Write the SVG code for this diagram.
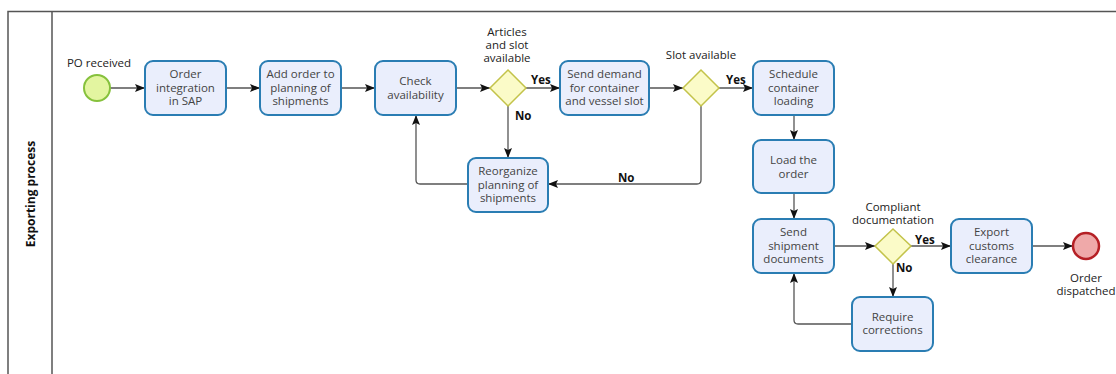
<svg xmlns="http://www.w3.org/2000/svg" width="1116" height="374" viewBox="0 0 1116 374">
<defs>
<marker id="arr" viewBox="0 0 10 10" refX="10" refY="5" markerWidth="10" markerHeight="10" markerUnits="userSpaceOnUse" orient="auto">
<path d="M0,1 L10,5 L0,9 L2,5 Z" fill="#111"/>
</marker>
</defs>
<style>
.pool{fill:none;stroke:#555;stroke-width:1.5}
.task{fill:#eaeefc;stroke:#2a7db3;stroke-width:2}
.gw{fill:#fbfbc8;stroke:#c3c34a;stroke-width:1.5}
.tt{font-family:"Open Sans","Noto Sans",sans-serif;font-size:11.5px;fill:#444;text-anchor:middle}
.lbl{font-family:"Open Sans","Noto Sans",sans-serif;font-size:11.5px;fill:#222;text-anchor:middle}
.yn{font-family:"Open Sans","Noto Sans",sans-serif;font-size:11.5px;font-weight:bold;fill:#111}
.con{fill:none;stroke:#555;stroke-width:1.3;marker-end:url(#arr)}
</style>
<g id="pool">
<path class="pool" d="M8,374 L8,11.5 L1116,11.5 M52,11.5 L52,374"/>
<text transform="translate(34.5,194) rotate(-90)" font-family="'Open Sans','Noto Sans',sans-serif" font-size="12px" font-weight="bold" fill="#111" text-anchor="middle">Exporting process</text>
</g>
<g id="connectors">
<path class="con" d="M110,88 L145,88"/>
<path class="con" d="M226,88 L260,88"/>
<path class="con" d="M341,88 L375,88"/>
<path class="con" d="M456,88 L490,88"/>
<path class="con" d="M526,88 L560,88"/>
<path class="con" d="M649,88 L683,88"/>
<path class="con" d="M719,88 L753,88"/>
<path class="con" d="M508,106 L508,158"/>
<path class="con" d="M701,106 L701,180 Q701,184 697,184 L548,184"/>
<path class="con" d="M468,184 L420,184 Q416,184 416,180 L416,115"/>
<path class="con" d="M794,115 L794,140"/>
<path class="con" d="M794,193 L794,219"/>
<path class="con" d="M834,246 L875,246"/>
<path class="con" d="M911,246 L951,246"/>
<path class="con" d="M1032,246 L1073,246"/>
<path class="con" d="M893,264 L893,297"/>
<path class="con" d="M852,324 L798,324 Q794,324 794,320 L794,273"/>
<text class="yn" x="531" y="84">Yes</text>
<text class="yn" x="515" y="120">No</text>
<text class="yn" x="726" y="84">Yes</text>
<text class="yn" x="618" y="182">No</text>
<text class="yn" x="915" y="244">Yes</text>
<text class="yn" x="896" y="272">No</text>
</g>
<g id="start">
<circle cx="97" cy="88" r="13" fill="#e3f5a0" stroke="#86c13c" stroke-width="2"/>
<text class="lbl" x="99" y="67">PO received</text>
</g>
<g id="t1">
<rect class="task" x="145" y="61" width="81" height="54" rx="8"/>
<text class="tt" x="185.5" y="78">Order</text>
<text class="tt" x="185.5" y="92">integration</text>
<text class="tt" x="185.5" y="105">in SAP</text>
</g>
<g id="t2">
<rect class="task" x="260" y="61" width="81" height="54" rx="8"/>
<text class="tt" x="300.5" y="78">Add order to</text>
<text class="tt" x="300.5" y="92">planning of</text>
<text class="tt" x="300.5" y="105">shipments</text>
</g>
<g id="t3">
<rect class="task" x="375" y="61" width="81" height="54" rx="8"/>
<text class="tt" x="415.5" y="85">Check</text>
<text class="tt" x="415.5" y="99">availability</text>
</g>
<g id="g1">
<path class="gw" d="M508,70 L526,88 L508,106 L490,88 Z"/>
<text class="lbl" x="507" y="36">Articles</text>
<text class="lbl" x="507" y="49">and slot</text>
<text class="lbl" x="507" y="62">available</text>
</g>
<g id="t4">
<rect class="task" x="560" y="61" width="89" height="54" rx="8"/>
<text class="tt" x="604.5" y="78">Send demand</text>
<text class="tt" x="604.5" y="92">for container</text>
<text class="tt" x="604.5" y="105">and vessel slot</text>
</g>
<g id="g2">
<path class="gw" d="M701,70 L719,88 L701,106 L683,88 Z"/>
<text class="lbl" x="701" y="59">Slot available</text>
</g>
<g id="t5">
<rect class="task" x="753" y="61" width="81" height="54" rx="8"/>
<text class="tt" x="793.5" y="78">Schedule</text>
<text class="tt" x="793.5" y="92">container</text>
<text class="tt" x="793.5" y="105">loading</text>
</g>
<g id="t10">
<rect class="task" x="468" y="158" width="80" height="54" rx="8"/>
<text class="tt" x="508" y="175">Reorganize</text>
<text class="tt" x="508" y="189">planning of</text>
<text class="tt" x="508" y="202">shipments</text>
</g>
<g id="t6">
<rect class="task" x="753" y="140" width="81" height="53" rx="8"/>
<text class="tt" x="793.5" y="164">Load the</text>
<text class="tt" x="793.5" y="178">order</text>
</g>
<g id="t7">
<rect class="task" x="753" y="219" width="81" height="54" rx="8"/>
<text class="tt" x="793.5" y="236">Send</text>
<text class="tt" x="793.5" y="250">shipment</text>
<text class="tt" x="793.5" y="263">documents</text>
</g>
<g id="g3">
<path class="gw" d="M893,229 L911,246 L893,264 L875,246 Z"/>
<text class="lbl" x="893" y="211">Compliant</text>
<text class="lbl" x="893" y="224">documentation</text>
</g>
<g id="t8">
<rect class="task" x="951" y="219" width="81" height="54" rx="8"/>
<text class="tt" x="991.5" y="236">Export</text>
<text class="tt" x="991.5" y="250">customs</text>
<text class="tt" x="991.5" y="263">clearance</text>
</g>
<g id="t9">
<rect class="task" x="852" y="297" width="81" height="54" rx="8"/>
<text class="tt" x="892.5" y="321">Require</text>
<text class="tt" x="892.5" y="334">corrections</text>
</g>
<g id="end">
<circle cx="1086" cy="246" r="13" fill="#efa9a9" stroke="#b52025" stroke-width="2.5"/>
<text class="lbl" x="1086" y="282">Order</text>
<text class="lbl" x="1086" y="295">dispatched</text>
</g>
</svg>
